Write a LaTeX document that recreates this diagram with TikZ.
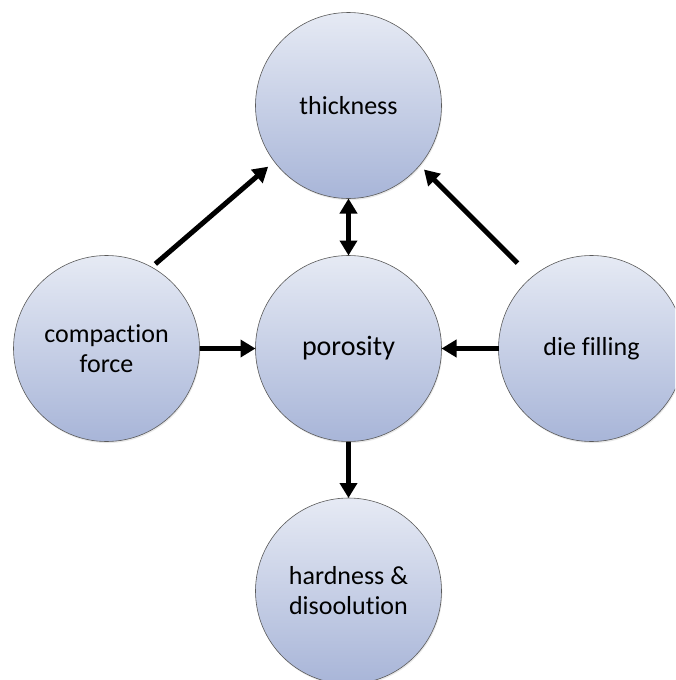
\documentclass[tikz,border=0pt]{standalone}
\usepackage{fontspec}
\setmainfont{Carlito}[Ligatures=NoCommon]
\usetikzlibrary{arrows.meta,shadows}
\definecolor{topblue}{HTML}{E6EAF4}
\definecolor{botblue}{HTML}{A8B5D8}
\definecolor{rimgray}{HTML}{5A5A5A}
\begin{document}
\begin{tikzpicture}[x=1pt,y=-1pt,
  bubble/.style={circle, minimum size=186pt, inner sep=0pt, outer sep=0pt,
    draw=rimgray, line width=0.6pt, top color=topblue, bottom color=botblue,
    drop shadow={opacity=0.18, shadow xshift=0.8pt, shadow yshift=-1.6pt},
    align=center, font=\fontsize{26}{30}\selectfont},
  arr/.style={line width=5pt, -{Triangle[length=15pt,width=17pt]}},
  dblarr/.style={line width=5pt, {Triangle[length=15pt,width=17pt]}-{Triangle[length=15pt,width=17pt]}}
]
\useasboundingbox (0,0) rectangle (675,680);
\clip (0,0) rectangle (675,680);
\node[bubble] (thick) at (348.5,105.5) {thickness};
\node[bubble, font=\fontsize{28}{32}\selectfont] (por) at (348.5,348.5) {porosity};
\node[bubble] (comp) at (106.5,348.5) {compaction\\force};
\node[bubble] (die) at (591.5,348.5) {die filling};
\node[bubble] (hard) at (348.5,591) {hardness \&\\disoolution};
\draw[arr] (comp) -- (por);
\draw[arr] (die) -- (por);
\draw[arr] (por) -- (hard);
\draw[dblarr] (thick) -- (por);
\draw[arr, shorten <=5pt, shorten >=8pt] (comp.61.6) -- (thick.217.4);
\draw[arr, shorten <=20pt, shorten >=6pt] (die.130.4) -- (thick.320.8);
\end{tikzpicture}
\end{document}
